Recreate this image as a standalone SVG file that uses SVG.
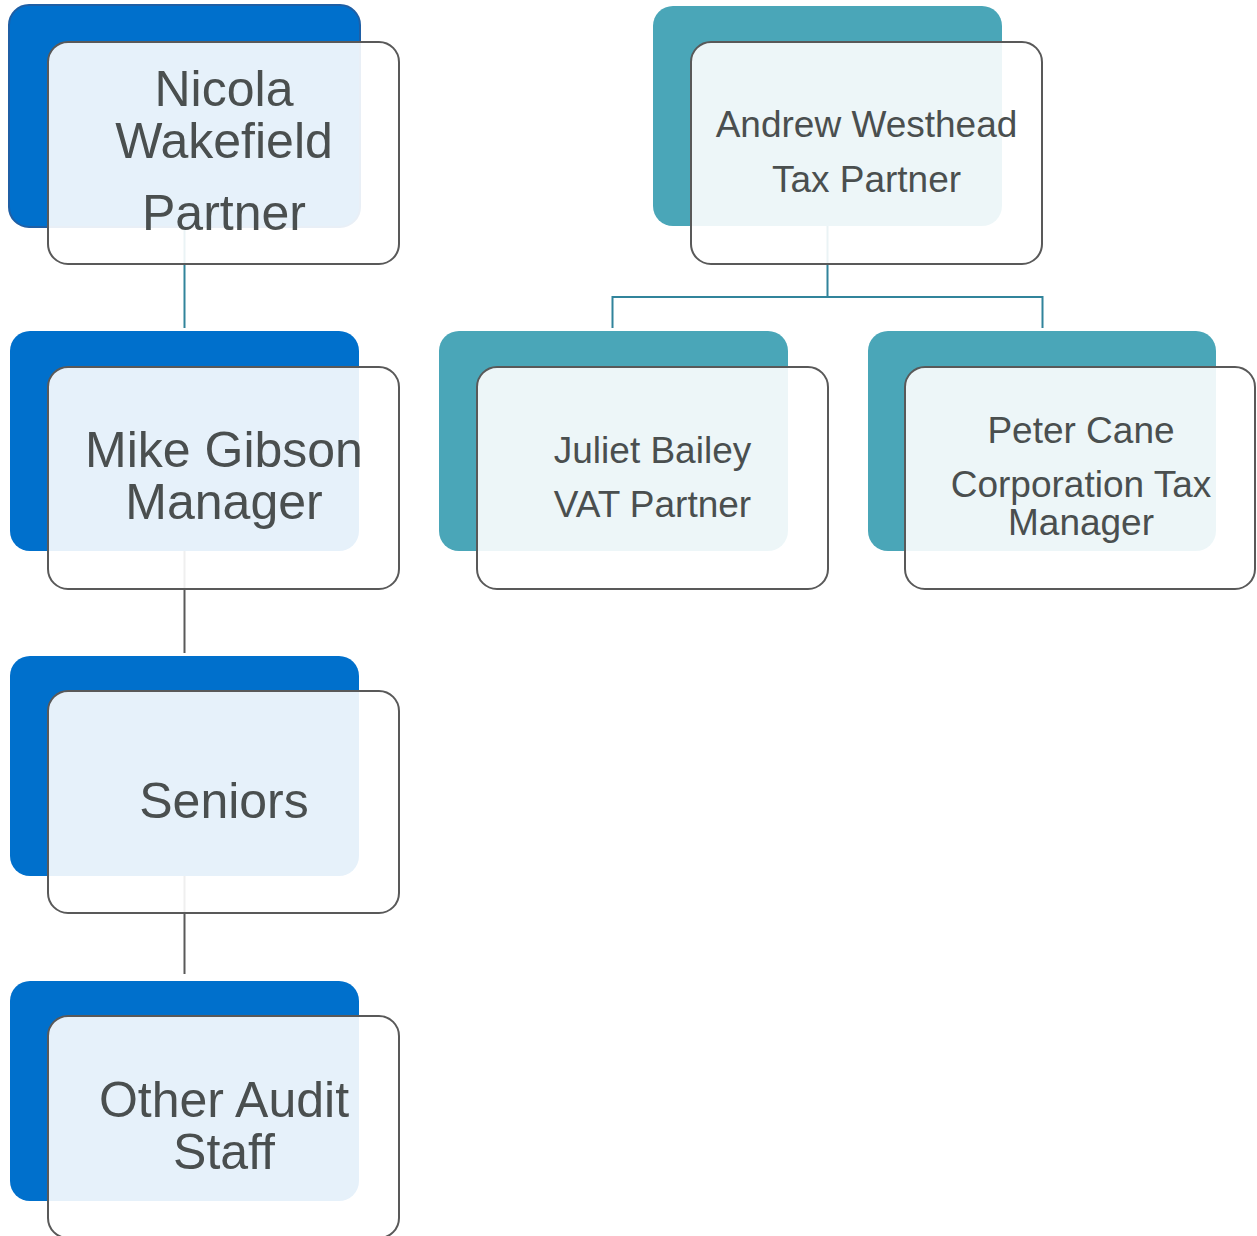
<svg xmlns="http://www.w3.org/2000/svg" width="1257" height="1236" viewBox="0 0 1257 1236">
<style>
.bb{fill:#0070CC}
.bt{fill:#4AA6B8}
.fr{fill:#FFFFFF;fill-opacity:0.9;stroke:#595959;stroke-width:2}
.tl{font-family:"Liberation Sans",Arial,sans-serif;font-size:50px;fill:#4A4F4F;text-anchor:middle}
.ts{font-family:"Liberation Sans",Arial,sans-serif;font-size:37px;fill:#4A4F4F;text-anchor:middle}
.ct{fill:none;stroke:#31849B;stroke-width:2}
.cg{fill:none;stroke:#595959;stroke-width:2}
</style>
<rect width="1257" height="1236" fill="#FFFFFF"/>
<g id="connectors">
<path class="ct" d="M184.5 228V328"/>
<path class="cg" d="M184.5 551V653"/>
<path class="cg" d="M184.5 876V974"/>
<path class="ct" d="M827.5 226V297H612.5V328M827.5 297H1042.5V328"/>
</g>
<g id="nicola">
<rect x="9" y="5" width="351" height="222" rx="20" fill="#0070CC" stroke="#1F5FA5" stroke-width="2"/>
<rect class="fr" x="48" y="42" width="351" height="222" rx="20"/>
<text class="tl" x="224" y="106">Nicola</text>
<text class="tl" x="224" y="158">Wakefield</text>
<text class="tl" x="224" y="230">Partner</text>
</g>
<g id="mike">
<rect class="bb" x="10" y="331" width="349" height="220" rx="20"/>
<rect class="fr" x="48" y="367" width="351" height="222" rx="20"/>
<text class="tl" x="224" y="467">Mike Gibson</text>
<text class="tl" x="224" y="519">Manager</text>
</g>
<g id="seniors">
<rect class="bb" x="10" y="656" width="349" height="220" rx="20"/>
<rect class="fr" x="48" y="691" width="351" height="222" rx="20"/>
<text class="tl" x="224" y="818">Seniors</text>
</g>
<g id="other">
<rect class="bb" x="10" y="981" width="349" height="220" rx="20"/>
<rect class="fr" x="48" y="1016" width="351" height="222" rx="20"/>
<text class="tl" x="224" y="1117">Other Audit</text>
<text class="tl" x="224" y="1169">Staff</text>
</g>
<g id="andrew">
<rect class="bt" x="653" y="6" width="349" height="220" rx="20"/>
<rect class="fr" x="691" y="42" width="351" height="222" rx="20"/>
<text class="ts" x="866.5" y="137">Andrew Westhead</text>
<text class="ts" x="866.5" y="192">Tax Partner</text>
</g>
<g id="juliet">
<rect class="bt" x="439" y="331" width="349" height="220" rx="20"/>
<rect class="fr" x="477" y="367" width="351" height="222" rx="20"/>
<text class="ts" x="652.5" y="463">Juliet Bailey</text>
<text class="ts" x="652.5" y="517">VAT Partner</text>
</g>
<g id="peter">
<rect class="bt" x="868" y="331" width="348" height="220" rx="20"/>
<rect class="fr" x="905" y="367" width="350" height="222" rx="20"/>
<text class="ts" x="1081" y="443">Peter Cane</text>
<text class="ts" x="1081" y="497">Corporation Tax</text>
<text class="ts" x="1081" y="535">Manager</text>
</g>
</svg>
